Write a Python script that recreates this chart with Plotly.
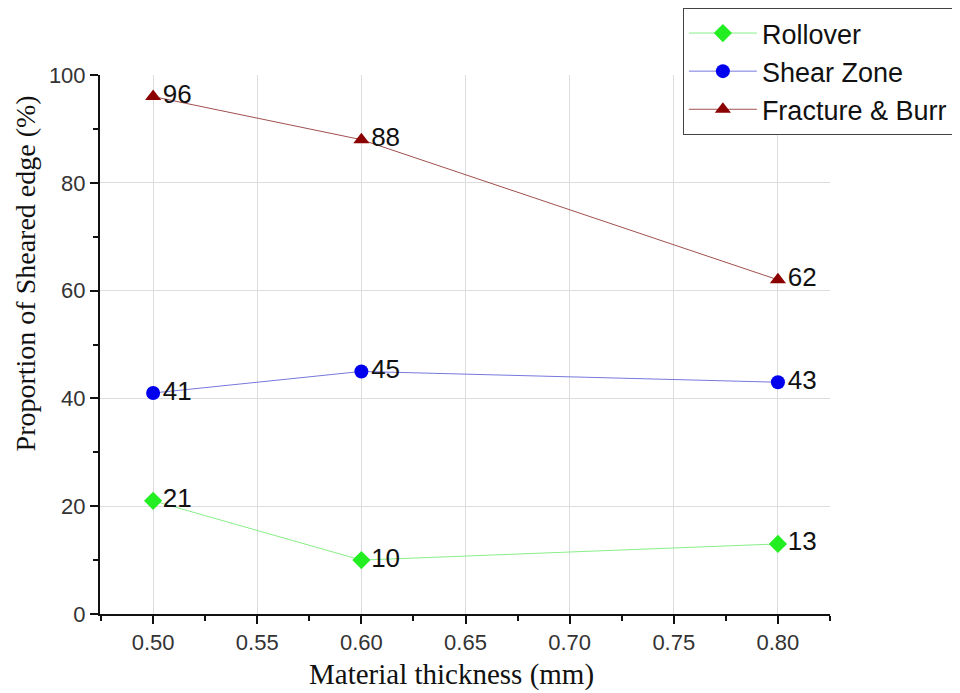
import plotly.graph_objects as go

thickness = [0.50, 0.60, 0.80]
rollover = [21, 10, 13]
shear_zone = [41, 45, 43]
fracture_burr = [96, 88, 62]

x_ticks = [0.50, 0.55, 0.60, 0.65, 0.70, 0.75, 0.80]
y_ticks = [0, 20, 40, 60, 80, 100]

x_title = "Material thickness (mm)"
y_title = "Proportion of Sheared edge (%)"

fig = go.Figure()

series = [
    ("Rollover", rollover, "#22ee22", "#88ee88", "diamond"),
    ("Shear Zone", shear_zone, "#0000ee", "#7777dd", "circle"),
    ("Fracture & Burr", fracture_burr, "#8b0000", "#a05050", "triangle-up"),
]
for name, vals, mc, lc, sym in series:
    fig.add_trace(go.Scatter(
        x=thickness, y=vals, name=name, mode="lines+markers+text",
        text=[str(v) for v in vals], textposition="middle right",
        textfont=dict(family="Arial, Liberation Sans", size=26, color="#111111"),
        line=dict(color=lc, width=1),
        marker=dict(color=mc, symbol=sym, size=14),
        cliponaxis=False,
    ))

title_font = dict(family="Times New Roman, Liberation Serif", color="#111111")
fig.add_annotation(text=x_title, xref="paper", yref="paper", x=0.4815, y=-0.113,
                   xanchor="center", yanchor="middle", showarrow=False,
                   font=dict(size=29, **title_font))
fig.add_annotation(text=y_title, xref="paper", yref="paper", x=-0.102, y=0.631,
                   xanchor="center", yanchor="middle", showarrow=False, textangle=-90,
                   font=dict(size=28, **title_font))

fig.update_layout(
    width=960, height=693,
    margin=dict(l=92, r=138, t=67, b=87, autoexpand=False),
    paper_bgcolor="white", plot_bgcolor="white",
    showlegend=True,
    legend=dict(
        xref="container", yref="container",
        x=0.703, y=1.0, xanchor="left", yanchor="top",
        bordercolor="#444444", borderwidth=1, bgcolor="white",
        font=dict(family="Arial, Liberation Sans", size=27, color="#111111"),
        tracegroupgap=0, itemwidth=68,
    ),
    xaxis=dict(
        range=[0.4745, 0.825], tickvals=x_ticks,
        ticktext=[f"{v:.2f}" for v in x_ticks],
        showgrid=True, gridcolor="#dddddd", gridwidth=1,
        showline=True, linecolor="#111111", linewidth=2,
        ticks="outside", ticklen=8, tickwidth=2, tickcolor="#111111",
        minor=dict(tickvals=[0.475, 0.525, 0.575, 0.625, 0.675, 0.725, 0.775, 0.825],
                   ticks="outside", ticklen=5, tickwidth=2, tickcolor="#111111", showgrid=False),
        tickfont=dict(family="Arial, Liberation Sans", size=22, color="#333333"),
        zeroline=False, automargin=False,
    ),
    yaxis=dict(
        range=[0, 100], tickvals=y_ticks,
        showgrid=True, gridcolor="#dddddd", gridwidth=1,
        showline=True, linecolor="#111111", linewidth=2,
        ticks="outside", ticklen=8, tickwidth=2, tickcolor="#111111",
        minor=dict(tickvals=[10, 30, 50, 70, 90],
                   ticks="outside", ticklen=5, tickwidth=2, tickcolor="#111111", showgrid=False),
        tickfont=dict(family="Arial, Liberation Sans", size=22, color="#333333"),
        zeroline=False, automargin=False,
    ),
)

fig.write_html("out.html")
